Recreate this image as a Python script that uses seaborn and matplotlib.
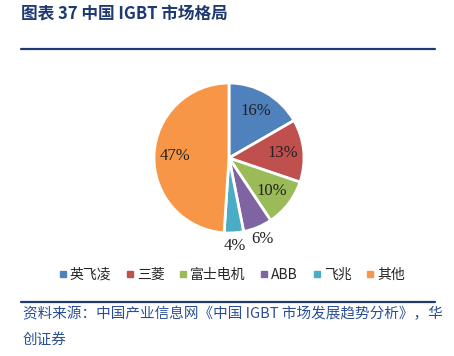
import seaborn as sns
import matplotlib.pyplot as plt
from matplotlib.lines import Line2D
import numpy as np

sns.set_theme(style="white")
plt.rcParams["font.family"] = ["Noto Sans CJK SC", "DejaVu Sans"]

companies = ["英飞凌", "三菱", "富士电机", "ABB", "飞兆", "其他"]
shares = [16, 13, 10, 6, 4, 47]
colors = sns.color_palette(["#4F81BD", "#C0504D", "#9BBB59", "#8064A2", "#4BACC6", "#F79646"])

TITLE = "图表 37 中国 IGBT 市场格局"
SOURCE = "资料来源：中国产业信息网《中国 IGBT 市场发展趋势分析》，华\n创证券"
NAVY = "#1F3A70"
BLUE_TXT = "#2A4F97"

fig = plt.figure(figsize=(4.54, 3.56), dpi=100)
W, H = 454, 356

# pie axes: centre (229,158) px, radius 75 px
cx, cy, r = 229, 158, 75
ax = fig.add_axes([(cx - r) / W, 1 - (cy + r) / H, 2 * r / W, 2 * r / H])
wedges, _ = ax.pie(
    shares, colors=colors, startangle=90, counterclock=False,
    wedgeprops={"edgecolor": "white", "linewidth": 2},
)
ax.set_xlim(-1, 1); ax.set_ylim(-1, 1); ax.set_aspect("equal")

for w, val in zip(wedges, shares):
    ang = np.deg2rad((w.theta1 + w.theta2) / 2)
    d = 0.72 if val >= 10 else 1.17
    ax.text(d * np.cos(ang), d * np.sin(ang), f"{val}%", ha="center", va="center",
            fontsize=12, family="Liberation Serif", color="#222222", clip_on=False)

# title and rules
fig.text(21 / W, 1 - 14 / H, TITLE, fontsize=12, fontweight="bold", color=NAVY,
         ha="left", va="center")
fig.add_artist(Line2D([21 / W, 435 / W], [1 - 49 / H] * 2, color=NAVY, lw=1.6))
fig.add_artist(Line2D([21 / W, 435 / W], [1 - 302 / H] * 2, color=NAVY, lw=1.6))

handles = [Line2D([], [], marker="s", ls="", color=c, markersize=4) for c in colors]
fig.legend(handles, companies, loc="center", bbox_to_anchor=(231 / W, 1 - 275 / H),
           ncol=6, frameon=False, fontsize=10, handletextpad=0.1, columnspacing=0.95,
           handlelength=0.8, borderaxespad=0)

fig.text(23 / W, 1 - 307 / H, SOURCE, fontsize=10.5, style="italic", color=BLUE_TXT,
         ha="left", va="top", linespacing=2.0)

fig.savefig("out.png", dpi=100)
